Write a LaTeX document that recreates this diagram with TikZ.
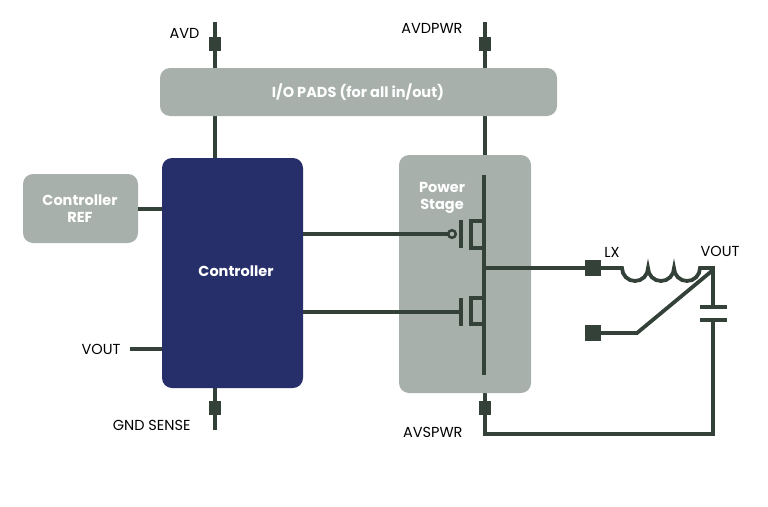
\documentclass[tikz,border=0pt]{standalone}
\usepackage{fontspec}
\setmainfont{Poppins}
\begin{document}
\begin{tikzpicture}[x=1pt,y=-1pt,
  wire/.style={draw=wirec,line width=3.8pt},
  gbox/.style={fill=boxg,rounded corners=10pt},
  pad/.style={fill=wirec},
  lbl/.style={font=\fontsize{14.5}{16}\selectfont,text=black},
  ttl/.style={font=\fontsize{14.5}{17}\selectfont\bfseries,text=white,align=center}]
\definecolor{wirec}{HTML}{334139}
\definecolor{boxg}{HTML}{A8B0AB}
\definecolor{navy}{HTML}{272F6B}
\useasboundingbox (0,0) rectangle (768,506);
% wires behind boxes
\draw[wire] (215,22) -- (215,158);
\draw[wire] (485,22) -- (485,155);
\draw[wire] (215,388) -- (215,430);
\draw[wire] (485,393) -- (485,434) -- (713,434) -- (713,320);
\fill[gbox] (160,68) rectangle (557,116);
\node[ttl] (io) at (358,92) {I/O PADS (for all in/out)};
\fill[gbox] (23,174) rectangle (138,243);
\node[ttl] (ref) at (80,209) {Controller\\REF};
\fill[navy,rounded corners=10pt] (162,158) rectangle (303,388);
\node[ttl] (ctl) at (236,271) {Controller};
\fill[gbox] (399,155) rectangle (531,393);
\node[ttl] (ps) at (442,198) {Power\\Stage};
\fill[pad] (209,37) rectangle (221,51);
\fill[pad] (479,37) rectangle (491,51);
\fill[pad] (209,401) rectangle (221,415);
\fill[pad] (479,401) rectangle (491,415);
\node[lbl,anchor=east] (avd) at (203,33) {AVD};
\node[lbl,anchor=east] (avdp) at (466,28) {AVDPWR};
\node[lbl,anchor=east] (gnd) at (194,425) {GND SENSE};
\node[lbl,anchor=east] (avs) at (466,432) {AVSPWR};
\node[lbl,anchor=east] (vl) at (124,349) {VOUT};
\node[lbl] (lx) at (612,252) {LX};
\node[lbl] (vr) at (720,251) {VOUT};
\draw[wire] (138,209) -- (162,209);
\draw[wire] (130,349) -- (162,349);
% transistors
\draw[wire] (484,175) -- (484,375);
\draw[wire] (303,234) -- (448,234);
\draw[draw=wirec,line width=2.5pt] (452,234) circle (3.8);
\draw[wire] (461,220) -- (461,248);
\draw[wire] (484,221) -- (471,221) -- (471,248) -- (484,248);
\draw[wire] (303,312) -- (461,312);
\draw[wire] (461,298) -- (461,326);
\draw[wire] (484,298) -- (471,298) -- (471,324) -- (484,324);
% output
\draw[wire] (484,268) -- (590,268);
\fill[pad] (585,260) rectangle (601,276);
\draw[wire] (601,268) -- (622,268) arc[start angle=180,end angle=0,radius=13]
  arc[start angle=180,end angle=0,radius=13] arc[start angle=180,end angle=0,radius=13] -- (713,268) -- (713,307);
\draw[wire] (700,307) -- (727,307);
\draw[wire] (700,320) -- (727,320);
\draw[wire] (713,270) -- (637,333) -- (595,333);
\fill[pad] (585,325) rectangle (601,341);
\end{tikzpicture}
\end{document}
